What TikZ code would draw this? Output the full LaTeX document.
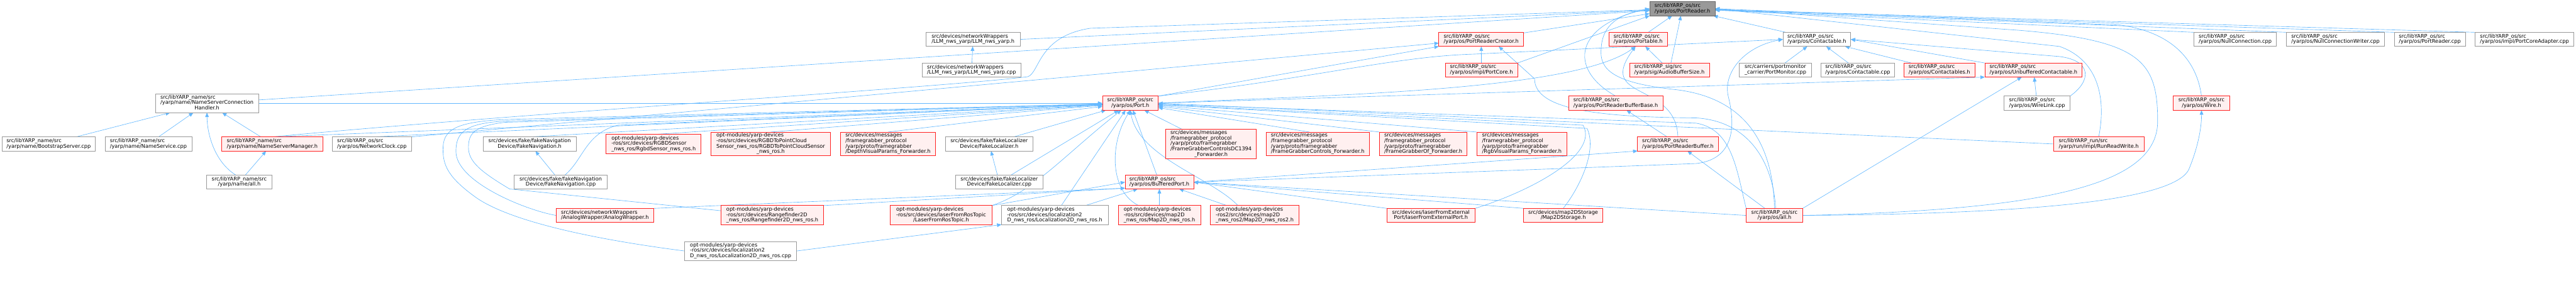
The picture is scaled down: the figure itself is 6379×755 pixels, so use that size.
\documentclass[tikz,border=0pt]{standalone}
\usepackage{fontspec}
\setmainfont{DejaVu Sans}
\usetikzlibrary{arrows.meta}
\pgfdeclarelayer{bg}
\pgfsetlayers{bg,main}
\definecolor{edgeblue}{HTML}{63B8FF}
\definecolor{boxgray}{HTML}{999999}
\definecolor{boxred}{HTML}{FF2020}
\definecolor{fillred}{HTML}{FFF0F0}
\definecolor{rootfill}{HTML}{999999}
\definecolor{rootdraw}{HTML}{666666}
\newcommand{\ndtxt}[2]{\begin{tabular}{@{}l@{}}#1\\\multicolumn{1}{@{}c@{}}{#2}\end{tabular}}
\newcommand{\gnode}[7]{\node[#2, minimum width={(#5)-(#3)}, minimum height={(#6)-(#4)}] (#1) at ({((#3)+(#5))/2},{((#4)+(#6))/2}) {#7};}
\begin{document}
\begin{tikzpicture}[x=1pt,y=-1pt,
  every node/.style={font=\fontsize{12.8}{12.9}\selectfont, inner sep=0pt, outer sep=0pt, rectangle},
  gbox/.style={draw=boxgray, fill=white, line width=1.3pt},
  rbox/.style={draw=boxred, fill=fillred, line width=1.3pt},
  rootbox/.style={draw=rootdraw, fill=rootfill, line width=1.3pt},
  conn/.style={draw=edgeblue, line width=1pt, -{Triangle[length=11pt,width=9pt]}}]
\useasboundingbox (0,0) rectangle (6379,755);
% ---------------- nodes ----------------
\gnode{nsch}{gbox}{385}{232}{640}{279}{\ndtxt{src/libYARP\_name/src\\/yarp/name/NameServerConnection}{Handler.h}}
\gnode{boot}{gbox}{5}{339}{236}{374}{\ndtxt{src/libYARP\_name/src}{/yarp/name/BootstrapServer.cpp}}
\gnode{nsvc}{gbox}{260}{339}{475}{374}{\ndtxt{src/libYARP\_name/src}{/yarp/name/NameService.cpp}}
\gnode{nsmgr}{rbox}{549}{339}{799}{374}{\ndtxt{src/libYARP\_name/src}{/yarp/name/NameServerManager.h}}
\gnode{nall}{gbox}{512}{434}{673}{468}{\ndtxt{src/libYARP\_name/src}{/yarp/name/all.h}}
\gnode{nclk}{gbox}{823}{339}{1019}{374}{\ndtxt{src/libYARP\_os/src}{/yarp/os/NetworkClock.cpp}}
\gnode{fnavh}{gbox}{1196}{339}{1427}{374}{\ndtxt{src/devices/fake/fakeNavigation}{Device/FakeNavigation.h}}
\gnode{fnavc}{gbox}{1273}{434}{1504}{468}{\ndtxt{src/devices/fake/fakeNavigation}{Device/FakeNavigation.cpp}}
\gnode{rgbd}{rbox}{1501}{333}{1736}{380}{\ndtxt{opt-modules/yarp-devices\\-ros/src/devices/RGBDSensor}{\_nws\_ros/RgbdSensor\_nws\_ros.h}}
\gnode{rgbdpc}{rbox}{1760}{327}{2057}{386}{\ndtxt{opt-modules/yarp-devices\\-ros/src/devices/RGBDToPointCloud\\Sensor\_nws\_ros/RGBDToPointCloudSensor}{\_nws\_ros.h}}
\gnode{depth}{rbox}{2081}{327}{2317}{386}{\ndtxt{src/devices/messages\\/framegrabber\_protocol\\/yarp/proto/framegrabber}{/DepthVisualParams\_Forwarder.h}}
\gnode{flocH}{gbox}{2341}{339}{2558}{374}{\ndtxt{src/devices/fake/fakeLocalizer}{Device/FakeLocalizer.h}}
\gnode{flocC}{gbox}{2366}{434}{2583}{468}{\ndtxt{src/devices/fake/fakeLocalizer}{Device/FakeLocalizer.cpp}}
\gnode{llmh}{gbox}{2293}{80}{2526}{115}{\ndtxt{src/devices/networkWrappers}{/LLM\_nws\_yarp/LLM\_nws\_yarp.h}}
\gnode{llmc}{gbox}{2283}{156}{2529}{191}{\ndtxt{src/devices/networkWrappers}{/LLM\_nws\_yarp/LLM\_nws\_yarp.cpp}}
\gnode{analog}{rbox}{1377}{516}{1619}{551}{\ndtxt{src/devices/networkWrappers}{/AnalogWrapper/AnalogWrapper.h}}
\gnode{range}{rbox}{1785}{509}{2040}{557}{\ndtxt{opt-modules/yarp-devices\\-ros/src/devices/Rangefinder2D}{\_nws\_ros/Rangefinder2D\_nws\_ros.h}}
\gnode{laserros}{rbox}{2205}{509}{2456}{557}{\ndtxt{opt-modules/yarp-devices\\-ros/src/devices/laserFromRosTopic}{/LaserFromRosTopic.h}}
\gnode{loch}{gbox}{2480}{509}{2744}{557}{\ndtxt{opt-modules/yarp-devices\\-ros/src/devices/localization2}{D\_nws\_ros/Localization2D\_nws\_ros.h}}
\gnode{locc}{gbox}{1695}{598}{1973}{645}{\ndtxt{opt-modules/yarp-devices\\-ros/src/devices/localization2}{D\_nws\_ros/Localization2D\_nws\_ros.cpp}}
\gnode{map2d}{rbox}{2769}{509}{2973}{557}{\ndtxt{opt-modules/yarp-devices\\-ros/src/devices/map2D}{\_nws\_ros/Map2D\_nws\_ros.h}}
\gnode{map2dd}{rbox}{2997}{509}{3217}{557}{\ndtxt{opt-modules/yarp-devices\\-ros2/src/devices/map2D}{\_nws\_ros2/Map2D\_nws\_ros2.h}}
\gnode{port}{rbox}{2730}{238}{2868}{273}{\ndtxt{src/libYARP\_os/src}{/yarp/os/Port.h}}
\gnode{bport}{rbox}{2786}{434}{2956}{468}{\ndtxt{src/libYARP\_os/src}{/yarp/os/BufferedPort.h}}
\gnode{dc}{rbox}{2887}{320}{3111}{393}{\ndtxt{src/devices/messages\\/framegrabber\_protocol\\/yarp/proto/framegrabber\\/FrameGrabberControlsDC1394}{\_Forwarder.h}}
\gnode{fgc}{rbox}{3135}{327}{3391}{386}{\ndtxt{src/devices/messages\\/framegrabber\_protocol\\/yarp/proto/framegrabber}{/FrameGrabberControls\_Forwarder.h}}
\gnode{fgof}{rbox}{3416}{327}{3633}{386}{\ndtxt{src/devices/messages\\/framegrabber\_protocol\\/yarp/proto/framegrabber}{/FrameGrabberOf\_Forwarder.h}}
\gnode{rgbvp}{rbox}{3657}{327}{3880}{386}{\ndtxt{src/devices/messages\\/framegrabber\_protocol\\/yarp/proto/framegrabber}{/RgbVisualParams\_Forwarder.h}}
\gnode{prc}{rbox}{3563}{80}{3773}{115}{\ndtxt{src/libYARP\_os/src}{/yarp/os/PortReaderCreator.h}}
\gnode{pcore}{rbox}{3579}{156}{3758}{191}{\ndtxt{src/libYARP\_os/src}{/yarp/os/impl/PortCore.h}}
\gnode{portable}{rbox}{3984}{80}{4129}{115}{\ndtxt{src/libYARP\_os/src}{/yarp/os/Portable.h}}
\gnode{abs}{rbox}{4035}{156}{4233}{191}{\ndtxt{src/libYARP\_sig/src}{/yarp/sig/AudioBufferSize.h}}
\gnode{prbb}{rbox}{3884}{238}{4118}{273}{\ndtxt{src/libYARP\_os/src}{/yarp/os/PortReaderBufferBase.h}}
\gnode{prb}{rbox}{4055}{339}{4255}{374}{\ndtxt{src/libYARP\_os/src}{/yarp/os/PortReaderBuffer.h}}
\gnode{lfe}{rbox}{3434}{516}{3653}{551}{\ndtxt{src/devices/laserFromExternal}{Port/laserFromExternalPort.h}}
\gnode{mds}{rbox}{3773}{516}{3969}{551}{\ndtxt{src/devices/map2DStorage}{/Map2DStorage.h}}
\gnode{pr}{rootbox}{4085}{4}{4247}{39}{\ndtxt{src/libYARP\_os/src}{/yarp/os/PortReader.h}}
\gnode{cont}{gbox}{4415}{80}{4583}{115}{\ndtxt{src/libYARP\_os/src}{/yarp/os/Contactable.h}}
\gnode{pmon}{gbox}{4307}{156}{4486}{191}{\ndtxt{src/carriers/portmonitor}{\_carrier/PortMonitor.cpp}}
\gnode{contc}{gbox}{4509}{156}{4692}{191}{\ndtxt{src/libYARP\_os/src}{/yarp/os/Contactable.cpp}}
\gnode{conts}{rbox}{4715}{156}{4890}{191}{\ndtxt{src/libYARP\_os/src}{/yarp/os/Contactables.h}}
\gnode{unb}{rbox}{4915}{156}{5156}{191}{\ndtxt{src/libYARP\_os/src}{/yarp/os/UnbufferedContactable.h}}
\gnode{wlink}{gbox}{4963}{238}{5126}{273}{\ndtxt{src/libYARP\_os/src}{/yarp/os/WireLink.cpp}}
\gnode{rrw}{rbox}{5085}{339}{5309}{374}{\ndtxt{src/libYARP\_run/src}{/yarp/run/impl/RunReadWrite.h}}
\gnode{wire}{rbox}{5382}{238}{5521}{273}{\ndtxt{src/libYARP\_os/src}{/yarp/os/Wire.h}}
\gnode{nullc}{gbox}{5433}{80}{5637}{115}{\ndtxt{src/libYARP\_os/src}{/yarp/os/NullConnection.cpp}}
\gnode{nullw}{gbox}{5662}{80}{5905}{115}{\ndtxt{src/libYARP\_os/src}{/yarp/os/NullConnectionWriter.cpp}}
\gnode{prcpp}{gbox}{5929}{80}{6105}{115}{\ndtxt{src/libYARP\_os/src}{/yarp/os/PortReader.cpp}}
\gnode{pca}{gbox}{6129}{80}{6374}{115}{\ndtxt{src/libYARP\_os/src}{/yarp/os/impl/PortCoreAdapter.cpp}}
\gnode{osall}{rbox}{4324}{516}{4464}{551}{\ndtxt{src/libYARP\_os/src}{/yarp/os/all.h}}
% ---------------- connectors ----------------
\begin{pgfonlayer}{bg}
% name cluster
\draw[conn] (boot) -- (nsch);
\draw[conn] (nsvc) -- (nsch);
\draw[conn] (nsmgr) -- (nsch);
\draw[conn] (nall.115) .. controls (530,400) and (513,330) .. (nsch.south);
\draw[conn] (nall) -- (nsmgr);
\draw[conn] (nsch.east) -- (port);
\draw[conn] (nsch) -- (pr);
\draw[conn] (nsmgr.north) -- (port);
\draw[conn] (nsmgr.north) .. controls (1300,280) and (2350,215) .. (2545,190) .. controls (2575,180) and (2570,90) .. (2700,70) -- (pr);
\draw[conn] (nclk.north) -- (port);
\draw[conn] (nclk.north east) -- (prc);
% fake navigation / localizer
\draw[conn] (fnavh.north) -- (port);
\draw[conn] (fnavc) -- (fnavh);
\draw[conn] (fnavc.60) .. controls (1445,395) and (1450,330) .. (1530,310) -- (port);
\draw[conn] (rgbd.north) -- (port);
\draw[conn] (rgbdpc.north) -- (port);
\draw[conn] (depth.north) -- (port);
\draw[conn] (flocH) -- (port);
\draw[conn] (flocC) -- (flocH);
\draw[conn] (flocC) -- (port);
% LLM
\draw[conn] (llmc) -- (llmh);
\draw[conn] (llmh.east) -- (pr);
% loops on the left
\draw[conn] (range.175) -- (1262,468) .. controls (1190,425) and (1160,400) .. (1160,365) .. controls (1160,330) and (1175,312) .. (1250,303) -- (port);
\draw[conn] (analog.west) .. controls (1300,520) and (1129,450) .. (1129,375) .. controls (1129,330) and (1150,305) .. (1250,300) -- (port);
\draw[conn] (locc.west) .. controls (1450,590) and (1260,545) .. (1180,490) .. controls (1110,440) and (1097,410) .. (1097,370) .. controls (1097,325) and (1120,302) .. (1250,296) -- (port);
% bottom rows
\draw[conn] (locc.east) -- (loch.190);
\draw[conn] (loch) -- (port);
\draw[conn] (loch) -- (bport);
\draw[conn] (laserros.north east) .. controls (2560,475) and (2640,380) .. (port);
\draw[conn] (laserros.north east) -- (bport.west);
\draw[conn] (range.north east) -- (bport.190);
\draw[conn] (analog.north east) -- (bport.190);
\draw[conn] (map2d.155) .. controls (2750,475) and (2745,360) .. (port.south);
\draw[conn] (map2d) -- (bport);
\draw[conn] (map2dd) -- (bport);
\draw[conn] (map2dd.150) .. controls (3000,440) and (2820,390) .. (port.south);
\draw[conn] (bport) -- (port);
\draw[conn] (dc) -- (port);
\draw[conn] (fgc.125) -- (port);
\draw[conn] (fgof.north west) -- (port);
\draw[conn] (rgbvp.north west) -- (port);
\draw[conn] (lfe.north east) .. controls (3800,470) and (3960,380) .. (3920,310) -- (port);
\draw[conn] (mds.north) .. controls (3915,460) and (3955,370) .. (3930,318) -- (port);
\draw[conn] (mds.north west) -- (bport.east);
\draw[conn] (lfe.north west) -- (bport.east);
\draw[conn] (rrw.west) -- (port.east);
% os/all.h
\draw[conn] (osall.west) -- (bport.east);
\draw[conn] (osall.north west) .. controls (4300,420) and (4290,320) .. (4200,305) -- (port);
\draw[conn] (osall) -- (prb);
\draw[conn] (osall.north east) -- (unb);
\draw[conn] (osall.east) .. controls (5000,530) and (5380,500) .. (5420,420) .. controls (5445,360) and (5452,310) .. (wire.south);
\draw[conn] (osall.north) .. controls (4390,330) and (4300,240) .. (4150,222) .. controls (3990,205) and (3960,170) .. (3965,120) .. controls (3968,60) and (4010,35) .. (pr.west);
\draw[conn] (osall.east) .. controls (5100,520) and (5343,450) .. (5343,300) .. controls (5343,150) and (5300,100) .. (5000,75) -- (pr.east);
\draw[conn] (osall.80) .. controls (4390,400) and (4330,300) .. (4200,292) .. controls (3950,290) and (3800,270) .. (3800,195) -- (prc.-22);
% right part
\draw[conn] (rrw.north) .. controls (5215,250) and (5200,150) .. (5100,115) -- (pr.east);
\draw[conn] (wire.north) .. controls (5440,150) and (5380,80) .. (5250,62) -- (pr.east);
\draw[conn] (nullc.north west) -- (pr);
\draw[conn] (nullw.north west) -- (pr);
\draw[conn] (prcpp.north west) -- (pr);
\draw[conn] (pca.north west) -- (pr);
\draw[conn] (wlink.north east) .. controls (5180,200) and (5180,150) .. (5100,140) -- (cont.east);
\draw[conn] (wlink) -- (unb);
\draw[conn] (unb.north west) -- (cont.east);
\draw[conn] (conts) -- (cont);
\draw[conn] (contc) -- (cont);
\draw[conn] (pmon) -- (cont);
\draw[conn] (cont) -- (pr);
% Port.h and friends
\draw[conn] (port.east) -- (unb.south west);
\draw[conn] (port.north east) -- (prc.south west);
\draw[conn] (port.east) .. controls (3300,235) and (3900,225) .. (portable.250);
\draw[conn] (port.north east) .. controls (3250,195) and (3450,140) .. (3650,134) -- (cont.west);
\draw[conn] (bport.east) -- (4200,405) .. controls (4290,395) and (4300,320) .. (4280,240) .. controls (4265,180) and (4320,115) .. (cont.west);
\draw[conn] (bport.east) -- (prb.south west);
\draw[conn] (prb) -- (prbb);
\draw[conn] (prb.north) .. controls (4150,200) and (3950,250) .. (portable.250);
\draw[conn] (prbb.north) .. controls (3880,170) and (3900,60) .. (pr.west);
\draw[conn] (pcore) -- (prc);
\draw[conn] (pcore.north east) -- (pr.south west);
\draw[conn] (prc) -- (pr);
\draw[conn] (portable) -- (pr);
\draw[conn] (abs) -- (portable);
\draw[conn] (abs) -- (pr);
\end{pgfonlayer}
\end{tikzpicture}
\end{document}
